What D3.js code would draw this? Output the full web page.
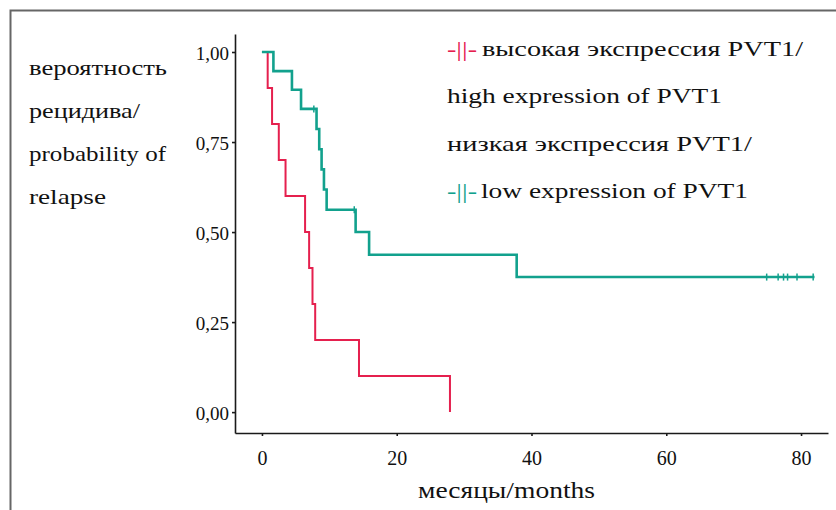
<!DOCTYPE html>
<html>
<head>
    <meta charset="utf-8">
    <title>Relapse probability by PVT1 expression</title>
    <script src="https://d3js.org/d3.v7.min.js" charset="utf-8"></script>
    <style>
        html,
        body {
            margin: 0;
            padding: 0;
            background: #fff;
        }
        svg text {
            font-family: "Liberation Serif", "Times New Roman", serif;
            fill: #111;
        }
        .axis path,
        .axis line {
            stroke: #1a1a1a;
            stroke-width: 1.6px;
        }
    </style>
</head>
<body>
    <div id="chart"></div>
    <script>
        // high expression of PVT1 (red): event times in months and survival after each step
        const highTimes = [0, 0.85, 1.5, 2.5, 3.5, 6.4, 7.0, 7.5, 7.9, 14.4, 27.9];
        const highSurv = [1, 0.9, 0.8, 0.7, 0.6, 0.5, 0.4, 0.3, 0.2, 0.1, 0];

        // low expression of PVT1 (teal)
        const lowTimes = [0, 1.7, 4.45, 5.8, 8.1, 8.5, 8.85, 9.2, 9.6, 13.9, 15.9, 37.8, 82.0];
        const lowSurv = [1, 0.947, 0.895, 0.842, 0.786, 0.73, 0.674, 0.618, 0.562, 0.5, 0.437, 0.375, 0.375];

        // censored patients on the low curve
        const lowCensorTimes = [7.7, 13.7, 74.9, 76.6, 77.4, 78.0, 79.4, 81.8];
        const lowCensorSurv = [0.842, 0.562, 0.375, 0.375, 0.375, 0.375, 0.375, 0.375];

        // tick labels
        const xTicks = [0, 20, 40, 60, 80];
        const yTicks = [0, 0.25, 0.5, 0.75, 1];

        // texts
        const yTitleLines = ["вероятность", "рецидива/", "probability of", "relapse"];
        const xTitle = "месяцы/months";
        const legendLines = ["высокая экспрессия PVT1/", "high expression of PVT1", "низкая экспрессия PVT1/", "low expression of PVT1"];

        const width = 836;
        const height = 510;
        const red = "#e5204e";
        const teal = "#12a18d";

        const svg = d3.select("#chart")
            .append("svg")
            .attr("width", width)
            .attr("height", height);

        // frame around the figure (top and left edge visible)
        svg.append("path")
            .attr("d", "M10.5," + height + "V10.5H" + width)
            .attr("fill", "none")
            .attr("stroke", "#666")
            .attr("stroke-width", 2);

        // scales with a little padding beyond the data like ggplot
        const x = d3.scaleLinear().domain([-4, 84]).range([235, 828]);
        const y = d3.scaleLinear().domain([-0.058, 1.05]).range([433, 34]);

        // axes
        svg.append("g")
            .attr("class", "axis")
            .attr("transform", "translate(0," + y.range()[0] + ")")
            .call(d3.axisBottom(x).tickValues(xTicks).tickSize(3).tickSizeOuter(0).tickPadding(15))
            .selectAll("text")
            .style("font-size", "20px");

        svg.append("g")
            .attr("class", "axis")
            .attr("transform", "translate(" + x.range()[0] + ",0)")
            .call(d3.axisLeft(y).tickValues(yTicks).tickSize(3).tickSizeOuter(0)
                .tickFormat(d => d3.format(".2f")(d).replace(".", ",")))
            .selectAll("text")
            .attr("dy", "0.38em")
            .style("font-size", "19px");

        // step curves
        const line = d3.line()
            .x(d => x(d[0]))
            .y(d => y(d[1]))
            .curve(d3.curveStepAfter);

        svg.append("path")
            .datum(d3.zip(highTimes, highSurv))
            .attr("d", line)
            .attr("fill", "none")
            .attr("stroke", red)
            .attr("stroke-width", 2);

        svg.append("path")
            .datum(d3.zip(lowTimes, lowSurv))
            .attr("d", line)
            .attr("fill", "none")
            .attr("stroke", teal)
            .attr("stroke-width", 2.6);

        // censor marks
        svg.selectAll(".censor")
            .data(d3.zip(lowCensorTimes, lowCensorSurv))
            .enter()
            .append("line")
            .attr("class", "censor")
            .attr("x1", d => x(d[0]))
            .attr("x2", d => x(d[0]))
            .attr("y1", d => y(d[1]) - 3.5)
            .attr("y2", d => y(d[1]) + 3.5)
            .attr("stroke", teal)
            .attr("stroke-width", 1.5);

        // stretched text helper (the original picture is a bit wide)
        function label(str, px, py, size, len) {
            return svg.append("text")
                .attr("x", px)
                .attr("y", py)
                .attr("textLength", len)
                .attr("lengthAdjust", "spacingAndGlyphs")
                .style("font-size", size + "px")
                .text(str);
        }

        // y title, four lines
        const yTitleWidths = [138, 111, 137, 77];
        yTitleLines.forEach((t, i) => label(t, 29, 75 + i * 43, 22, yTitleWidths[i]));

        // x title
        label(xTitle, 418, 498, 23, 177);

        // legend
        const legendX = [482, 447, 447, 481];
        const legendY = [56, 103, 151, 198];
        const legendW = [321, 275, 305, 267];
        legendLines.forEach((t, i) => label(t, legendX[i], legendY[i], 22, legendW[i]));
        label("-||-", 447, legendY[0], 22, 30).style("fill", red);
        label("-||-", 447, legendY[3], 22, 30).style("fill", teal);
    </script>
</body>
</html>
